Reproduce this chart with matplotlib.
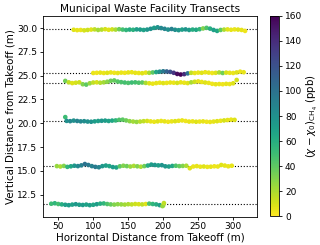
import matplotlib
matplotlib.use("Agg")
import matplotlib.pyplot as plt
import numpy as np

altitudes = [29.85, 25.3, 24.25, 20.2, 15.5, 11.5]

xA = [72,77,82,87,92,97,102,107,112,117,122,127,132,137,142,147,152,157,162,167,172,177,182,187,192,197,202,207,212,217,222,227,232,237,242,247,252,257,262,267,272,277,282,287,292,297,302,307,312,317]
yA = [29.82,29.78,29.80,29.76,29.80,29.84,29.86,29.80,29.84,29.88,29.82,29.86,29.84,29.88,29.84,29.80,29.84,29.82,29.86,29.84,29.80,29.84,29.92,30.02,30.08,30.00,29.92,29.84,29.90,29.82,29.78,29.84,29.86,29.80,29.84,29.82,29.88,29.96,30.02,29.94,29.80,29.70,29.80,29.84,29.86,29.82,29.86,29.84,29.80,29.70]
cA = [8,6,5,10,12,8,15,22,18,10,8,12,20,35,48,55,62,58,70,72,68,75,80,72,78,85,88,80,90,82,75,70,78,72,60,65,55,30,45,60,70,65,40,20,8,6,5,8,6,4]

xB = [100,105,110,115,120,125,130,135,140,145,150,155,160,165,170,175,180,185,190,195,200,205,210,215,220,225,230,235,240,245,250,255,260,265,270,275,280,285,290,295,300,305,310,315]
yB = [25.28,25.30,25.32,25.28,25.30,25.34,25.30,25.28,25.32,25.30,25.34,25.36,25.30,25.28,25.26,25.32,
      25.30,25.34,25.38,25.42,25.46,25.44,25.40,25.30,25.18,25.12,25.16,25.24,25.30,
      25.28,25.32,25.30,25.36,25.32,25.28,25.30,25.34,25.28,25.32,25.30,25.28,25.34,25.42,25.36]
cB = [5,4,6,5,8,5,4,6,5,4,6,5,6,5,8,6,
      20,40,65,80,95,110,120,135,155,160,140,100,15,
      6,5,8,5,6,4,8,20,35,10,6,5,8,5,6]

xC = [60,65,70,75,80,85,90,95,100,105,110,115,120,125,130,135,140,145,150,155,160,165,170,175,180,185,190,195,200,205,210,215,220,225,230,235,240,245,250,255,260,265,270,275,280,285,290,295,300,305]
yC = [24.45,24.30,24.22,24.26,24.30,24.10,24.06,24.20,24.28,24.30,24.26,24.30,24.36,24.46,24.50,24.38,24.32,24.28,24.24,24.28,24.30,24.26,24.28,24.24,24.20,24.16,24.22,24.26,24.22,24.24,24.28,24.26,24.24,24.30,24.26,24.22,24.30,24.36,24.40,24.34,24.28,24.24,24.14,24.10,24.12,24.10,24.14,24.12,24.20,24.55]
cC = [35,15,8,10,12,30,40,25,15,10,18,22,28,35,38,42,45,48,45,50,48,45,40,20,8,5,6,5,8,5,6,5,10,6,5,8,20,12,6,5,8,5,4,6,5,4,6,5,8,10]

xD = [60,62,67,72,77,82,87,92,97,102,107,112,117,122,127,132,137,142,147,152,157,162,167,172,177,182,187,192,197,202,207,212,217,222,227,232,237,242,247,252,257,262,267,272,277,282,287,292,297,302]
yD = [20.65,20.25,20.22,20.28,20.24,20.20,20.22,20.18,20.16,20.20,20.24,20.26,20.28,20.24,20.28,20.30,20.36,20.38,20.30,20.22,20.18,20.14,20.18,20.22,20.24,20.20,20.16,20.20,20.24,20.20,20.16,20.20,20.22,20.26,20.30,20.24,20.18,20.20,20.16,20.18,20.20,20.16,20.14,20.18,20.22,20.26,20.30,20.34,20.38,20.36]
cD = [50,80,85,80,88,85,82,80,78,72,70,75,72,68,65,55,45,40,35,28,22,25,18,15,10,6,5,8,5,6,4,5,8,6,5,4,6,5,8,5,6,4,5,6,8,5,10,6,5,8]

xE = [48,53,58,63,68,73,78,83,88,93,98,103,108,113,118,123,128,133,138,143,148,153,158,163,168,173,178,183,188,193,198,203,208,213,218,223,228,233,238,243,248,253,258,263,268,273,278,283,288,293,298]
yE = [15.50,15.46,15.52,15.42,15.48,15.54,15.50,15.58,15.72,15.62,15.50,15.42,15.38,15.50,15.56,15.50,15.40,15.36,15.48,15.54,15.50,15.46,15.52,15.48,15.44,15.50,15.56,15.66,15.62,15.58,15.60,15.48,15.46,15.52,15.54,15.50,15.52,15.54,15.28,15.46,15.50,15.44,15.46,15.42,15.44,15.48,15.46,15.62,15.56,15.48,15.54]
cE = [25,20,30,55,65,75,85,90,100,95,90,95,88,75,70,65,72,68,40,30,35,25,20,30,20,35,60,72,75,70,78,75,70,65,45,38,30,20,8,5,6,5,8,5,6,4,5,8,6,5,6]

xF = [40,45,50,55,60,65,70,75,80,85,90,95,100,105,110,115,120,125,130,135,140,145,150,155,160,165,170,175,180,185,190,195,200,199,201]
yF = [11.55,11.60,11.52,11.48,11.44,11.40,11.46,11.50,11.44,11.42,11.46,11.40,11.44,11.50,11.56,11.58,11.52,11.48,11.46,11.50,11.48,11.46,11.50,11.48,11.52,11.50,11.48,11.52,11.56,11.52,11.48,11.40,11.38,11.30,11.62]
cF = [50,55,48,60,70,72,68,75,70,72,68,70,65,72,60,55,45,38,30,28,25,22,20,15,12,10,15,8,45,55,60,70,20,25,15]

xs = np.concatenate([xA, xB, xC, xD, xE, xF])
ys = np.concatenate([yA, yB, yC, yD, yE, yF])
cs = np.concatenate([cA, cB, cC, cD, cE, cF])

fig = plt.figure(figsize=(3.2, 2.45), dpi=100)
ax = fig.add_axes([0.134, 0.116, 0.669, 0.82])
cax = fig.add_axes([0.844, 0.118, 0.029, 0.817])

for a in altitudes:
    ax.axhline(a, color='black', linestyle=':', linewidth=0.8, zorder=1)

sc = ax.scatter(xs, ys, c=cs, cmap='viridis_r', vmin=0, vmax=160, s=11, linewidths=0, zorder=2)

ax.set_xlim(28, 334)
ax.set_ylim(10.2, 31.3)
ax.set_xticks([50, 100, 150, 200, 250, 300])
ax.set_yticks([12.5, 15.0, 17.5, 20.0, 22.5, 25.0, 27.5, 30.0])
ax.tick_params(labelsize=6.5, length=2.5, width=0.6, pad=1.5)
for s in ax.spines.values():
    s.set_linewidth(0.6)
ax.set_title('Municipal Waste Facility Transects', fontsize=7.6, pad=3)
ax.set_xlabel('Horizontal Distance from Takeoff (m)', fontsize=7.4, labelpad=1)
ax.set_ylabel('Vertical Distance from Takeoff (m)', fontsize=7.4, labelpad=1)

cb = fig.colorbar(sc, cax=cax)
cb.set_ticks([0, 20, 40, 60, 80, 100, 120, 140, 160])
cb.ax.tick_params(labelsize=6.5, length=2.5, width=0.6, pad=1.5)
cb.outline.set_linewidth(0.6)
cb.set_label(r'$(\chi - \chi_0)_{\mathrm{CH_4}}$ (ppb)', fontsize=7.4, labelpad=2)

fig.savefig('out.png', dpi=100)
